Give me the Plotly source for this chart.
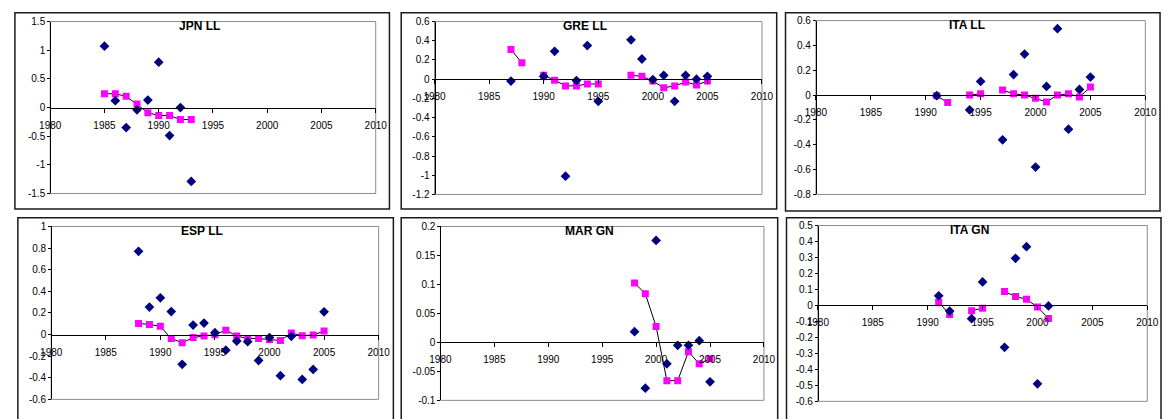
import plotly.graph_objects as go

W, H = 1174, 419

x_ticks = [1980, 1985, 1990, 1995, 2000, 2005, 2010]
x_tick_labels = ["1980", "1985", "1990", "1995", "2000", "2005", "2010"]

# ---- JPN LL ----
jpn_ll_title = "JPN LL"
jpn_ll_years = [1985, 1986, 1987, 1988, 1989, 1990, 1991, 1992, 1993]
jpn_ll_actual = [1.07, 0.12, -0.35, -0.04, 0.13, 0.79, -0.49, 0.0, -1.29]
jpn_ll_smooth = [0.24, 0.24, 0.195, 0.06, -0.09, -0.14, -0.14, -0.21, -0.21]
jpn_ll_yticks = [-1.5, -1, -0.5, 0, 0.5, 1, 1.5]
jpn_ll_ylabels = ["-1.5", "-1", "-0.5", "0", "0.5", "1", "1.5"]

# ---- GRE LL ----
gre_ll_title = "GRE LL"
gre_ll_years = [1987, 1988, 1989, 1990, 1991, 1992, 1993, 1994, 1995, 1996,
                1997, 1998, 1999, 2000, 2001, 2002, 2003, 2004, 2005]
gre_ll_actual = [-0.02, None, None, 0.03, 0.29, -1.01, -0.015, 0.35, -0.23, None,
                 None, 0.41, 0.21, -0.005, 0.04, -0.23, 0.04, 0.0, 0.03]
gre_ll_smooth = [0.31, 0.17, None, 0.04, -0.01, -0.07, -0.07, -0.05, -0.05, None,
                 None, 0.04, 0.03, -0.02, -0.09, -0.07, -0.03, -0.06, -0.02]
gre_ll_yticks = [-1.2, -1, -0.8, -0.6, -0.4, -0.2, 0, 0.2, 0.4, 0.6]
gre_ll_ylabels = ["-1.2", "-1", "-0.8", "-0.6", "-0.4", "-0.2", "0", "0.2", "0.4", "0.6"]

# ---- ITA LL ----
ita_ll_title = "ITA LL"
ita_ll_years = [1991, 1992, 1993, 1994, 1995, 1996, 1997, 1998, 1999, 2000,
                2001, 2002, 2003, 2004, 2005]
ita_ll_actual = [-0.005, None, None, -0.12, 0.11, None, -0.36, 0.165, 0.33, -0.58,
                 0.07, 0.535, -0.275, 0.045, 0.145]
ita_ll_smooth = [-0.005, -0.06, None, 0.0, 0.01, None, 0.04, 0.01, 0.0, -0.025,
                 -0.055, 0.0, 0.01, -0.015, 0.065]
ita_ll_yticks = [-0.8, -0.6, -0.4, -0.2, 0, 0.2, 0.4, 0.6]
ita_ll_ylabels = ["-0.8", "-0.6", "-0.4", "-0.2", "0", "0.2", "0.4", "0.6"]

# ---- ESP LL ----
esp_ll_title = "ESP LL"
esp_ll_years = list(range(1988, 2006))
esp_ll_actual = [0.77, 0.255, 0.34, 0.213, -0.275, 0.088, 0.106, 0.017, -0.144,
                 -0.06, -0.066, -0.24, -0.028, -0.38, -0.016, -0.415, -0.323, 0.21]
esp_ll_smooth = [0.103, 0.094, 0.076, -0.037, -0.076, -0.028, -0.013, -0.001, 0.041,
                 -0.013, -0.037, -0.037, -0.046, -0.055, 0.014, -0.01, -0.004, 0.032]
esp_ll_yticks = [-0.6, -0.4, -0.2, 0, 0.2, 0.4, 0.6, 0.8, 1]
esp_ll_ylabels = ["-0.6", "-0.4", "-0.2", "0", "0.2", "0.4", "0.6", "0.8", "1"]

# ---- MAR GN ----
mar_gn_title = "MAR GN"
mar_gn_years = [1998, 1999, 2000, 2001, 2002, 2003, 2004, 2005]
mar_gn_actual = [0.0185, -0.079, 0.176, -0.037, -0.005, -0.005, 0.003, -0.068]
mar_gn_smooth = [0.1025, 0.084, 0.0275, -0.066, -0.066, -0.016, -0.037, -0.028]
mar_gn_yticks = [-0.1, -0.05, 0, 0.05, 0.1, 0.15, 0.2]
mar_gn_ylabels = ["-0.1", "-0.05", "0", "0.05", "0.1", "0.15", "0.2"]

# ---- ITA GN ----
ita_gn_title = "ITA GN"
ita_gn_years = [1991, 1992, 1993, 1994, 1995, 1996, 1997, 1998, 1999, 2000, 2001]
ita_gn_actual = [0.06, -0.035, None, -0.083, 0.147, None, -0.262, 0.295, 0.368, -0.49, -0.003]
ita_gn_smooth = [0.02, -0.057, None, -0.033, -0.017, None, 0.087, 0.056, 0.038, -0.01, -0.081]
ita_gn_yticks = [-0.6, -0.5, -0.4, -0.3, -0.2, -0.1, 0, 0.1, 0.2, 0.3, 0.4, 0.5]
ita_gn_ylabels = ["-0.6", "-0.5", "-0.4", "-0.3", "-0.2", "-0.1", "0", "0.1", "0.2", "0.3", "0.4", "0.5"]

panels = [
    (jpn_ll_title, jpn_ll_years, jpn_ll_actual, jpn_ll_smooth, jpn_ll_yticks, jpn_ll_ylabels),
    (gre_ll_title, gre_ll_years, gre_ll_actual, gre_ll_smooth, gre_ll_yticks, gre_ll_ylabels),
    (ita_ll_title, ita_ll_years, ita_ll_actual, ita_ll_smooth, ita_ll_yticks, ita_ll_ylabels),
    (esp_ll_title, esp_ll_years, esp_ll_actual, esp_ll_smooth, esp_ll_yticks, esp_ll_ylabels),
    (mar_gn_title, mar_gn_years, mar_gn_actual, mar_gn_smooth, mar_gn_yticks, mar_gn_ylabels),
    (ita_gn_title, ita_gn_years, ita_gn_actual, ita_gn_smooth, ita_gn_yticks, ita_gn_ylabels),
]

# layout geometry in pixels: plot area (x0, x1, y_top, y_bottom) and outer box
plot_px = [
    (40, 372, 16, 193),
    (432, 766, 16, 194),
    (821, 1157, 15, 194),
    (41, 375, 227, 405),
    (438, 768, 227, 406),
    (823, 1159, 226, 407),
]
box_px = [
    (4, 386, 7, 209),
    (398, 781, 7, 209),
    (790, 1172, 7, 211),
    (7, 390, 218, 430),
    (398, 782, 218, 430),
    (791, 1173, 218, 430),
]

FONT = "Arial, 'Liberation Sans', Helvetica, sans-serif"

fig = go.Figure()
shapes = []
annotations = []
layout_axes = {}

for i, (title, years, actual, smooth, yt, yl) in enumerate(panels):
    n = i + 1
    xa = "x" if n == 1 else f"x{n}"
    ya = "y" if n == 1 else f"y{n}"
    xkey = "xaxis" if n == 1 else f"xaxis{n}"
    ykey = "yaxis" if n == 1 else f"yaxis{n}"
    px0, px1, pyt, pyb = plot_px[i]
    dx = [px0 / W, px1 / W]
    dy = [1 - pyb / H, 1 - pyt / H]
    ymin, ymax = yt[0], yt[-1]
    zero_pos = dy[0] + (0 - ymin) / (ymax - ymin) * (dy[1] - dy[0])

    fig.add_trace(go.Scatter(
        x=years, y=smooth, mode="lines+markers", connectgaps=False,
        line=dict(color="black", width=1),
        marker=dict(symbol="square", size=7, color="#FF00FF"),
        xaxis=xa, yaxis=ya, showlegend=False, hoverinfo="x+y"))
    fig.add_trace(go.Scatter(
        x=years, y=actual, mode="markers",
        marker=dict(symbol="diamond", size=7.5, color="#000080"),
        xaxis=xa, yaxis=ya, showlegend=False, hoverinfo="x+y"))

    layout_axes[xkey] = dict(
        domain=dx, range=[1980, 2010], anchor="free", position=zero_pos,
        tickvals=x_ticks, ticktext=x_tick_labels, ticks="outside", ticklen=4,
        ticklabelstandoff=4,
        tickcolor="black", showline=True, linecolor="black", linewidth=1,
        showgrid=False, zeroline=False, fixedrange=True,
        tickfont=dict(family=FONT, size=10, color="black"))
    layout_axes[ykey] = dict(
        domain=dy, range=[ymin, ymax], anchor="free", position=dx[0],
        tickvals=yt, ticktext=yl, ticks="outside", ticklen=3,
        tickcolor="black", showline=True, linecolor="black", linewidth=1,
        showgrid=False, zeroline=False, fixedrange=True,
        tickfont=dict(family=FONT, size=10, color="black"))

    shapes.append(dict(type="rect", xref=f"{xa} domain", yref=f"{ya} domain",
                       x0=0, x1=1, y0=0, y1=1, layer="below",
                       line=dict(color="#8c8c8c", width=1)))
    bx0, bx1, byt, byb = box_px[i]
    shapes.append(dict(type="rect", xref="paper", yref="paper",
                       x0=bx0 / W, x1=bx1 / W, y0=1 - byb / H, y1=1 - byt / H,
                       line=dict(color="#1a1a1a", width=1.5)))
    annotations.append(dict(text=f"<b>{title}</b>", xref=f"{xa} domain", yref=f"{ya} domain",
                            x=0.46, y=0.975, xanchor="center", yanchor="middle",
                            showarrow=False, font=dict(family=FONT, size=12, color="black")))

fig.update_layout(
    width=W, height=H, margin=dict(l=0, r=0, t=0, b=0),
    paper_bgcolor="white", plot_bgcolor="white",
    shapes=shapes, annotations=annotations, showlegend=False,
    **layout_axes)

fig.write_html("out.html")
